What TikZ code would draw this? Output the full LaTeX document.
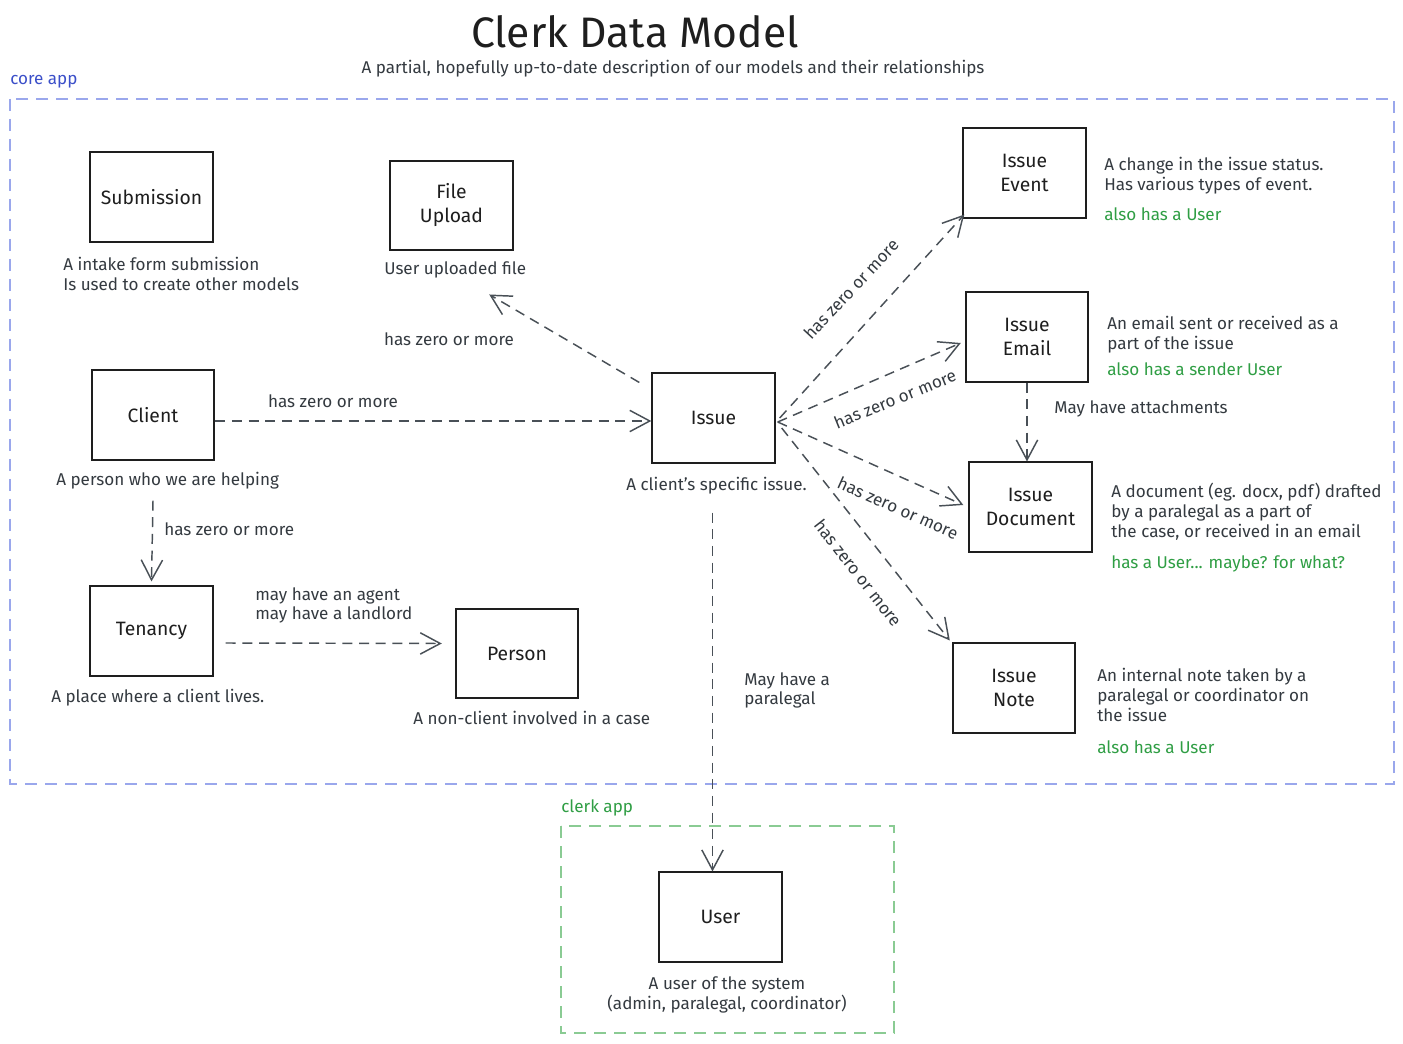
\documentclass[tikz,border=0pt]{standalone}
\usepackage{fontspec}
\setmainfont{Fira Sans}
\usetikzlibrary{arrows.meta,calc}
\definecolor{ink}{HTML}{1E1E1E}
\definecolor{txt}{HTML}{343A40}
\definecolor{arr}{HTML}{495057}
\definecolor{grn}{HTML}{2F9E44}
\definecolor{blu}{HTML}{3B4FC9}
\definecolor{blurect}{HTML}{9AA7EC}
\definecolor{grnrect}{HTML}{8ACB93}
\begin{document}
\begin{tikzpicture}[x=0.75pt,y=-0.75pt,
  model/.style={draw=ink, line width=1.3pt, minimum width=92pt, minimum height=67pt,
    font=\fontsize{14.5}{18}\selectfont, align=center, inner sep=0pt, text=ink},
  desc/.style={text=txt, font=\fontsize{12.8}{15}\selectfont, align=left, inner sep=0pt},
  lbl/.style={text=txt, font=\fontsize{12.8}{14}\selectfont, align=left, inner sep=0pt},
  greennote/.style={text=grn, font=\fontsize{12.8}{15}\selectfont, inner sep=0pt},
  rel/.style={draw=arr, line width=1.1pt, dash pattern=on 7.5pt off 5pt,
    -{Straight Barb[length=15pt,width=16pt,line width=1.1pt]}},
  group/.style={line width=1.1pt, dash pattern=on 9pt off 6pt},
]
\useasboundingbox[fill=white] (0,0) rectangle (1403,1044);

% title
\node[text=ink, font=\fontsize{32}{36}\selectfont] (title) at (635,32) {Clerk Data Model};
\node[desc, align=center] (subtitle) at (673,69) {A partial, hopefully up-to-date description of our models and their relationships};

% groups
\draw[group, draw=blurect] (10,99) rectangle (1394,784);
\node[text=blu, font=\fontsize{12.8}{15}\selectfont, anchor=west, inner sep=0pt] (corelbl) at (10,82) {core app};
\draw[group, draw=grnrect] (561,826) rectangle (894,1033);
\node[text=grn, font=\fontsize{12.8}{15}\selectfont, anchor=west, inner sep=0pt] (clerklbl) at (561,808) {clerk app};

% models
\node[model] (submission) at (151.5,197) {Submission};
\node[model] (fileupload) at (451.5,205.5) {File\\Upload};
\node[model] (client) at (153,415) {Client};
\node[model] (issue) at (713.5,418) {Issue};
\node[model] (tenancy) at (151.5,631) {Tenancy};
\node[model] (person) at (517,653.5) {Person};
\node[model] (event) at (1024.5,173) {Issue\\Event};
\node[model] (email) at (1027,337) {Issue\\Email};
\node[model] (document) at (1030.5,507) {Issue\\Document};
\node[model] (note) at (1014,688) {Issue\\Note};
\node[model] (user) at (720.5,917) {User};

% descriptions
\node[desc, anchor=west] (subdesc) at (63,274) {A intake form submission\\Is used to create other models};
\node[desc, anchor=west] (fudesc) at (384,270) {User uploaded file};
\node[desc, anchor=west] (cldesc) at (56,481) {A person who we are helping};
\node[desc, anchor=west] (tedesc) at (51,698) {A place where a client lives.};
\node[desc, anchor=west] (pedesc) at (413,718) {A non-client involved in a case};
\node[desc, anchor=west] (isdesc) at (626,486) {A client's specific issue.};
\node[desc, anchor=west] (evdesc) at (1104,176) {A change in the issue status.\\Has various types of event.};
\node[greennote, anchor=west] (evnote) at (1104,214) {also has a User};
\node[desc, anchor=west] (emdesc) at (1107,335) {An email sent or received as a\\part of the issue};
\node[greennote, anchor=west] (emnote) at (1107,369) {also has a sender User};
\node[desc, anchor=west] (dodesc) at (1111,512) {A document (eg. docx, pdf) drafted\\by a paralegal as a part of\\the case, or received in an email};
\node[greennote, anchor=west] (donote) at (1111,564) {has a User... maybe? for what?};
\node[desc, anchor=west] (nodesc) at (1097,695) {An internal note taken by a\\paralegal or coordinator on\\the issue};
\node[greennote, anchor=west] (nonote) at (1097,747) {also has a User};
\node[desc, align=center] (usdesc) at (727,995) {A user of the system\\(admin, paralegal, coordinator)};

% connectors
\coordinate (ustart) at ($(issue.south)+(-1,49)$);
\draw[rel] ($(issue.north west)+(-12,10)$) -- ($(fudesc.south)+(34,16)$);
\draw[rel] ($(client.east)+(0,6)$) -- ($(issue.west)+(0,3)$);
\draw[rel] ($(client.south)+(0,40)$) -- ($(tenancy.north)+(0,-4)$);
\draw[rel] ($(tenancy.east)+(12,12)$) -- ($(person.west)+(-13,-10)$);
\draw[rel] ($(issue.east)+(4,0)$) -- ($(event.south west)+(2,-4)$);
\draw[rel] ($(issue.east)+(2,4)$) -- ($(email.west)+(-4,6)$);
\draw[rel] ($(issue.east)+(2,4)$) -- ($(document.west)+(-5,-2)$);
\draw[rel] ($(issue.east)+(6,10)$) -- ($(note.north west)+(-2,-2)$);
\draw[rel] (email.south) -- (email.south |- document.north);
\draw[rel] (ustart) -- (ustart |- user.north);

% connector labels
\node[lbl] (l1) at (449,339) {has zero or more};
\node[lbl] (l2) at (333,401) {has zero or more};
\node[lbl, anchor=west] (l3) at (164,529) {has zero or more};
\node[lbl, anchor=west] (l4) at (255,605.5) {may have an agent\\may have a landlord};
\node[lbl, anchor=west] (l5) at (744,690.5) {May have a\\paralegal};
\node[lbl, anchor=west] (l6) at (1054,409) {May have attachments};
\node[lbl, rotate=47] (l7) at (851,289) {has zero or more};
\node[lbl, rotate=22] (l8) at (895,399) {has zero or more};
\node[lbl, rotate=-24] (l9) at (898,508) {has zero or more};
\node[lbl, rotate=-52] (l10) at (858,573) {has zero or more};
\end{tikzpicture}
\end{document}
